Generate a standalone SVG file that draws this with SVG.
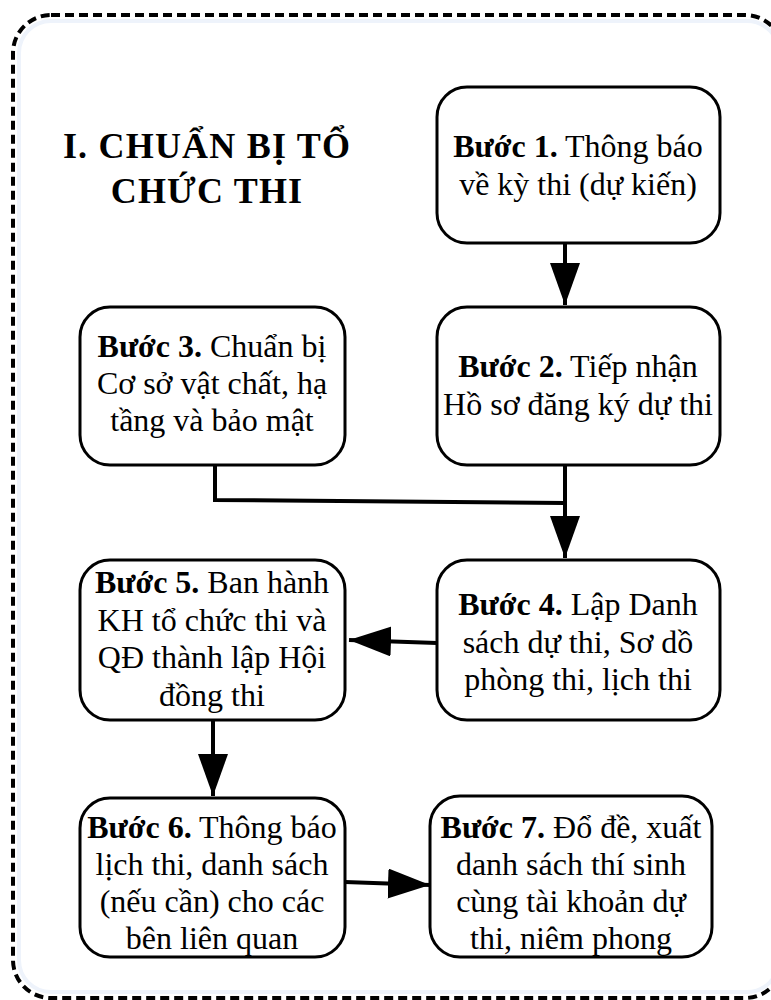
<svg xmlns="http://www.w3.org/2000/svg" width="771" height="1000" viewBox="0 0 771 1000">
<defs>
<style>
.frame{fill:none;stroke:#000;stroke-width:4;stroke-dasharray:9 5}
.glow{fill:none;stroke:#eef3fb;stroke-width:4}
.box{fill:#fff;stroke:#000;stroke-width:3}
.t{font-family:"Liberation Serif","Times New Roman",serif;font-size:32px;fill:#000;text-anchor:middle}
.b{font-weight:bold}
.title{font-family:"Liberation Serif","Times New Roman",serif;font-size:36px;font-weight:bold;fill:#000;text-anchor:middle;letter-spacing:1.2px}
.ln{fill:none;stroke:#000;stroke-width:4}
</style>
<marker id="ah" markerUnits="userSpaceOnUse" markerWidth="44" markerHeight="32" refX="42" refY="15" orient="auto">
<polygon points="0,0 42,15 0,30" fill="#000"/>
</marker>
</defs>
<rect class="glow" x="19" y="21" width="760" height="971" rx="32"/>
<rect class="frame" x="13" y="15" width="770" height="983" rx="38"/>
<g id="title">
<text class="title" x="207" y="158">I. CHUẨN BỊ TỔ</text>
<text class="title" x="207" y="203">CHỨC THI</text>
</g>
<g id="connectors">
<line class="ln" x1="565" y1="243" x2="565" y2="305" marker-end="url(#ah)"/>
<polyline class="ln" points="215,465 215,500 565,503"/>
<line class="ln" x1="565" y1="465" x2="565" y2="558" marker-end="url(#ah)"/>
<line class="ln" x1="437" y1="643" x2="349" y2="640" marker-end="url(#ah)"/>
<line class="ln" x1="213" y1="720" x2="213" y2="796" marker-end="url(#ah)"/>
<line class="ln" x1="345" y1="882" x2="430" y2="885" marker-end="url(#ah)"/>
</g>
<g id="step1">
<rect class="box" x="437" y="87" width="283" height="156" rx="30"/>
<text class="t" x="578" y="157"><tspan class="b">Bước 1.</tspan> Thông báo</text>
<text class="t" x="578" y="195">về kỳ thi (dự kiến)</text>
</g>
<g id="step2">
<rect class="box" x="437" y="307" width="283" height="158" rx="30"/>
<text class="t" x="578" y="377"><tspan class="b">Bước 2.</tspan> Tiếp nhận</text>
<text class="t" x="578" y="415">Hồ sơ đăng ký dự thi</text>
</g>
<g id="step3">
<rect class="box" x="80" y="307" width="265" height="158" rx="30"/>
<text class="t" x="212" y="357"><tspan class="b">Bước 3.</tspan> Chuẩn bị</text>
<text class="t" x="212" y="394">Cơ sở vật chất, hạ</text>
<text class="t" x="212" y="431">tầng và bảo mật</text>
</g>
<g id="step4">
<rect class="box" x="437" y="560" width="283" height="160" rx="30"/>
<text class="t" x="578" y="615"><tspan class="b">Bước 4.</tspan> Lập Danh</text>
<text class="t" x="578" y="653">sách dự thi, Sơ dồ</text>
<text class="t" x="578" y="690">phòng thi, lịch thi</text>
</g>
<g id="step5">
<rect class="box" x="80" y="560" width="265" height="160" rx="30"/>
<text class="t" x="212" y="593"><tspan class="b">Bước 5.</tspan> Ban hành</text>
<text class="t" x="212" y="631">KH tổ chức thi và</text>
<text class="t" x="212" y="668">QĐ thành lập Hội</text>
<text class="t" x="212" y="706">đồng thi</text>
</g>
<g id="step6">
<rect class="box" x="80" y="798" width="265" height="159" rx="30"/>
<text class="t" x="212" y="838"><tspan class="b">Bước 6.</tspan> Thông báo</text>
<text class="t" x="212" y="875">lịch thi, danh sách</text>
<text class="t" x="212" y="912">(nếu cần) cho các</text>
<text class="t" x="212" y="949">bên liên quan</text>
</g>
<g id="step7">
<rect class="box" x="430" y="796" width="282" height="161" rx="30"/>
<text class="t" x="571" y="838"><tspan class="b">Bước 7.</tspan> Đổ đề, xuất</text>
<text class="t" x="571" y="875">danh sách thí sinh</text>
<text class="t" x="571" y="912">cùng tài khoản dự</text>
<text class="t" x="571" y="949">thi, niêm phong</text>
</g>
</svg>
